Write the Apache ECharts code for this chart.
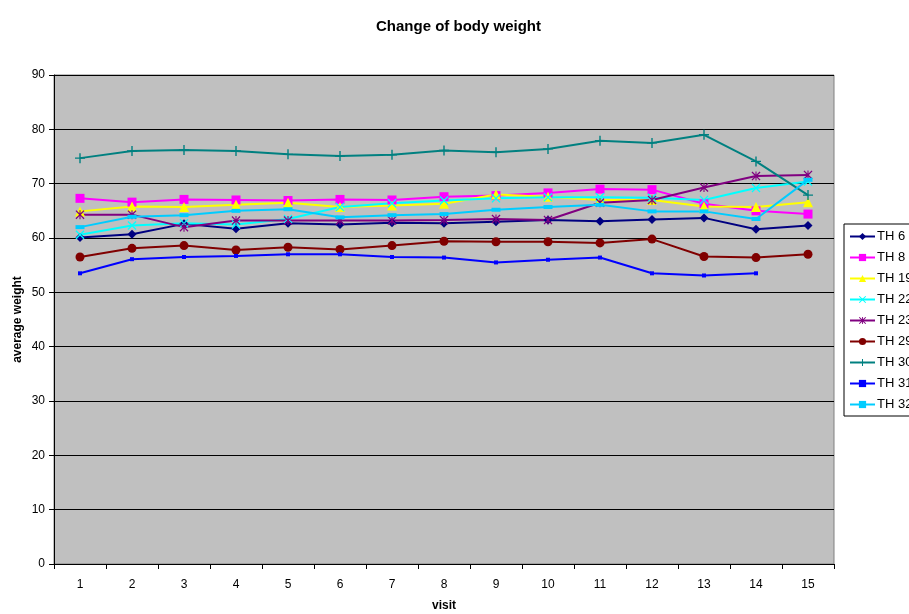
<!DOCTYPE html>
<html>
<head>
<meta charset="utf-8">
<script src="https://cdn.jsdelivr.net/npm/echarts@6/dist/echarts.min.js"></script>
<style>
  html, body { margin: 0; padding: 0; background: #fff; }
  #chart { width: 909px; height: 614px; }
</style>
</head>
<body>
<div id="chart"></div>
<script>
// Visits 1..15 along the x axis
const visits = ['1','2','3','4','5','6','7','8','9','10','11','12','13','14','15'];

// Average body weight per subject at each visit
const th6  = [60.1, 60.7, 62.6, 61.7, 62.7, 62.5, 62.8, 62.7, 63.0, 63.3, 63.1, 63.4, 63.7, 61.6, 62.3];
const th8  = [67.3, 66.6, 67.1, 67.0, 66.9, 67.1, 67.0, 67.6, 67.8, 68.3, 69.0, 68.9, 66.3, 65.0, 64.4];
const th19 = [64.9, 65.8, 65.7, 66.1, 66.5, 65.7, 66.0, 66.3, 68.0, 67.6, 67.0, 67.0, 65.8, 65.7, 66.6];
const th22 = [60.6, 62.3, 62.7, 62.5, 63.5, 65.7, 66.4, 66.9, 67.3, 67.5, 67.5, 67.4, 67.0, 69.2, 70.4];
const th23 = [64.3, 64.3, 62.0, 63.2, 63.2, 63.2, 63.2, 63.3, 63.5, 63.3, 66.5, 67.0, 69.3, 71.4, 71.6];
const th29 = [56.5, 58.1, 58.6, 57.8, 58.3, 57.9, 58.6, 59.4, 59.3, 59.3, 59.1, 59.8, 56.6, 56.4, 57.0];
const th30 = [74.7, 76.0, 76.2, 76.0, 75.4, 75.1, 75.3, 76.1, 75.8, 76.4, 77.9, 77.5, 79.0, 74.1, 67.9];
const th31 = [53.5, 56.1, 56.5, 56.7, 57.0, 57.0, 56.5, 56.4, 55.5, 56.0, 56.4, 53.5, 53.1, 53.5, null];
const th32 = [62.0, 63.9, 64.2, 65.0, 65.3, 63.8, 64.2, 64.4, 65.2, 65.7, 66.1, 64.9, 64.9, 63.5, 70.7];

// Marker outlines
const plusPath = 'path://M4.3,0H5.7V4.3H10V5.7H5.7V10H4.3V5.7H0V4.3H4.3Z';
const crossPath = 'path://M0,1L1,0L5,4L9,0L10,1L6,5L10,9L9,10L5,6L1,10L0,9L4,5Z';
const starPath = 'path://M0,1L1,0L4.4,3.4V0H5.6V3.4L9,0L10,1L6,5L10,9L9,10L5.6,6.6V10H4.4V6.6L1,10L0,9L4,5Z';
const dashPath = 'path://M0,0H10V4H0Z';

const FONT = 'Liberation Sans, Arial, sans-serif';

function line(name, data, color, symbol, size) {
  return {
    name: name,
    type: 'line',
    data: data,
    symbol: symbol,
    symbolSize: size,
    showSymbol: true,
    connectNulls: false,
    lineStyle: { color: color, width: 2 },
    itemStyle: { color: color, borderWidth: 0 },
    emphasis: { disabled: true },
    animation: false
  };
}

const chart = echarts.init(document.getElementById('chart'));
chart.setOption({
  backgroundColor: '#ffffff',
  animation: false,
  textStyle: { fontFamily: FONT },
  title: {
    text: 'Change of body weight',
    left: 371,
    top: 14,
    textStyle: { fontFamily: FONT, fontSize: 15, fontWeight: 'bold', color: '#000' }
  },
  legend: {
    orient: 'vertical',
    left: 844,
    top: 224,
    padding: [6, 6, 5, 5],
    itemWidth: 25,
    itemHeight: 9,
    itemGap: 8,
    borderColor: '#000',
    borderWidth: 1,
    backgroundColor: '#ffffff',
    textStyle: { fontFamily: FONT, fontSize: 13, color: '#000', padding: [0, 0, 0, -3] },
    data: ['TH 6','TH 8','TH 19','TH 22','TH 23','TH 29','TH 30','TH 31','TH 32']
  },
  grid: {
    left: 54,
    right: 75,
    top: 75,
    bottom: 50,
    outerBoundsMode: 'none',
    show: true,
    backgroundColor: '#C0C0C0',
    borderColor: '#808080',
    borderWidth: 1
  },
  xAxis: {
    type: 'category',
    data: visits,
    boundaryGap: true,
    name: 'visit',
    nameLocation: 'middle',
    nameGap: 36,
    nameTextStyle: { fontFamily: FONT, fontSize: 12, fontWeight: 'bold', color: '#000' },
    axisLine: { lineStyle: { color: '#000', width: 1 } },
    axisTick: { show: true, inside: false, length: 5, alignWithLabel: false, lineStyle: { color: '#000' } },
    axisLabel: { color: '#000', fontSize: 12, margin: 15, fontFamily: FONT },
    splitLine: { show: false }
  },
  yAxis: {
    type: 'value',
    min: 0,
    max: 90,
    interval: 10,
    name: 'average weight',
    nameLocation: 'middle',
    nameMoveOverlap: false,
    nameGap: 30,
    nameTextStyle: { fontFamily: FONT, fontSize: 12, fontWeight: 'bold', color: '#000' },
    axisLine: { show: true, lineStyle: { color: '#000', width: 1 } },
    axisTick: { show: true, inside: false, length: 5, lineStyle: { color: '#000' } },
    axisLabel: { color: '#000', fontSize: 12, margin: 9, fontFamily: FONT },
    splitLine: { show: true, lineStyle: { color: '#000', width: 1 } }
  },
  series: [
    line('TH 6',  th6,  '#000080', 'diamond', 9),
    line('TH 8',  th8,  '#FF00FF', 'rect', 9),
    line('TH 19', th19, '#FFFF00', 'triangle', 10),
    line('TH 22', th22, '#00FFFF', crossPath, 9),
    line('TH 23', th23, '#800080', starPath, 9),
    line('TH 29', th29, '#800000', 'circle', 9),
    line('TH 30', th30, '#008080', plusPath, 10),
    line('TH 31', th31, '#0000FF', 'rect', 4),
    line('TH 32', th32, '#00CCFF', dashPath, [9, 4])
  ]
});
</script>
</body>
</html>
